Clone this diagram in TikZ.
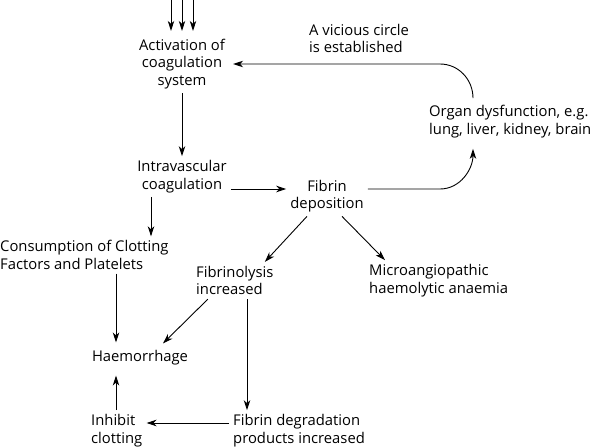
\documentclass[tikz,border=0pt]{standalone}
\usepackage{fontspec}
\setmainfont{Open Sans}
\usetikzlibrary{arrows.meta}

\begin{document}
\begin{tikzpicture}[x=1pt, y=1pt,
    % Styles
    box/.style={inner sep=4pt, align=center, font=\fontsize{14.8}{17.5}\selectfont},
    leftbox/.style={box, align=left, anchor=west},
    flow-arrow/.style={-{Stealth[length=10pt, width=6.5pt, inset=3pt]}, line width=0.9pt},
]
\useasboundingbox (0,0) rectangle (592,-447);

% Upper chain
\node[box] (activation) at (182,-64) {Activation of\\coagulation\\system};
\node[leftbox] (vicious) at (305,-38.5) {A vicious circle\\is established};
\node[leftbox] (organ) at (425,-121.5) {Organ dysfunction, e.g.\\lung, liver, kidney, brain};
\node[box] (intravascular) at (182,-176.5) {Intravascular\\coagulation};
\node[box] (fibrin) at (327,-196) {Fibrin\\deposition};

% Lower chain
\node[leftbox] (consumption) at (-4,-255) {Consumption of Clotting\\Factors and Platelets};
\node[leftbox] (fibrinolysis) at (192,-280.5) {Fibrinolysis\\increased};
\node[leftbox] (microangio) at (365,-280.5) {Microangiopathic\\haemolytic anaemia};
\node[box] (haemorrhage) at (140,-358) {Haemorrhage};
\node[leftbox] (fdp) at (229,-430.5) {Fibrin degradation\\products increased};
\node[leftbox] (inhibit) at (87,-430.5) {Inhibit\\clotting};

% Incoming arrows
\foreach \x [count=\i] in {171,182,193} {
    \coordinate (in\i) at (\x,0);
    \draw[flow-arrow, shorten >=4pt] (in\i) -- (in\i |- activation.north);
}

% Vicious circle
\coordinate (bend) at (440,-189);
\draw[flow-arrow] (activation.south) -- (intravascular.north);
\draw[flow-arrow] ([yshift=-12.5pt]intravascular.east) -- ([yshift=7pt]fibrin.west);
\draw[flow-arrow] ([yshift=7pt]fibrin.east) -- (bend) to[out=0, in=-90] ([xshift=48pt, yshift=-7pt]organ.south west);
\draw[flow-arrow] ([xshift=48pt, yshift=3pt]organ.north west) to[out=90, in=0] (activation.east -| bend) -- ([xshift=4pt]activation.east);

% Consequences
\draw[flow-arrow] (intravascular.south -| 151,0) -- (consumption.north -| 151,0);
\draw[flow-arrow] (consumption.south -| 116,0) -- ([yshift=4pt]haemorrhage.north -| 116,0);
\draw[flow-arrow] ([xshift=-20pt]fibrin.south) -- ([xshift=30pt]fibrinolysis.north);
\draw[flow-arrow] ([xshift=15pt]fibrin.south) -- ([xshift=20pt]microangio.north west);
\draw[flow-arrow] ([xshift=-27pt]fibrinolysis.south) -- ([xshift=23pt, yshift=3pt]haemorrhage.north);
\draw[flow-arrow] (fibrinolysis.south -| 247,0) -- (fdp.north -| 247,0);
\draw[flow-arrow] ([yshift=7.5pt]fdp.west) -- ([yshift=7.5pt]inhibit.east);
\draw[flow-arrow] (inhibit.north -| 116,0) -- ([yshift=-6pt]haemorrhage.south -| 116,0);

\end{tikzpicture}
\end{document}
